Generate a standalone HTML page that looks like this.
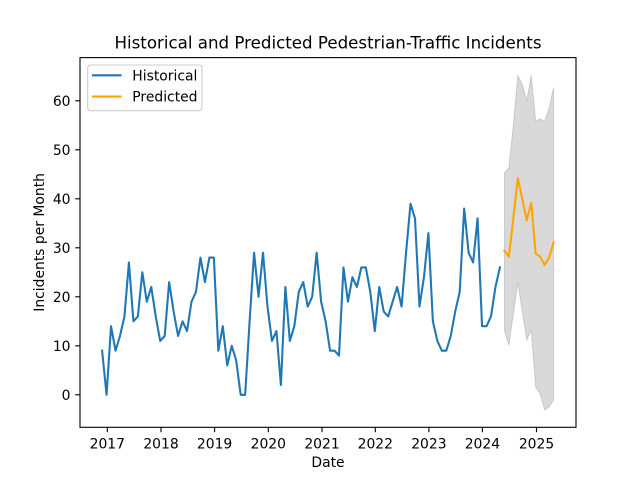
<!DOCTYPE html>
<html>
<head>
<meta charset="utf-8">
<style>
html,body{margin:0;padding:0;background:#fff;}
svg{display:block;}
text{font-family:"DejaVu Sans","Liberation Sans",sans-serif;fill:#000;}
</style>
</head>
<body>
<svg width="640" height="480" viewBox="0 0 640 480" xmlns="http://www.w3.org/2000/svg">
<rect x="0" y="0" width="640" height="480" fill="#fff"/>

<!-- data group: x = 102.1 + 4.47*i ; y = 394.8 - 4.9*v -->
<g transform="translate(102.1,394.8) scale(4.47,-4.9)">
  <polygon fill="#808080" fill-opacity="0.3" stroke="#808080" stroke-opacity="0.3" stroke-width="1" vector-effect="non-scaling-stroke"
    points="90,45.3 91,46.3 92,55 93,65.2 94,63.3 95,60 96,65.2 97,55.8 98,56.3 99,55.8 100,58.5 101,62.7 101,-1 100,-2.5 99,-3.1 98,0.2 97,1.6 96,13.3 95,11.2 94,17 93,22.9 92,16.5 91,10.1 90,13.1"/>
  <polyline fill="none" stroke="#1f77b4" stroke-width="2.08" stroke-linejoin="round" stroke-linecap="square" vector-effect="non-scaling-stroke"
    points="0,9 1,0 2,14 3,9 4,12 5,16 6,27 7,15 8,16 9,25 10,19 11,22 12,16 13,11 14,12 15,23 16,17 17,12 18,15 19,13 20,19 21,21 22,28 23,23 24,28 25,28 26,9 27,14 28,6 29,10 30,7 31,0 32,0 33,15 34,29 35,20 36,29 37,18 38,11 39,13 40,2 41,22 42,11 43,14 44,21 45,23 46,18 47,20 48,29 49,19 50,15 51,9 52,9 53,8 54,26 55,19 56,24 57,22 58,26 59,26 60,21 61,13 62,22 63,17 64,16 65,19 66,22 67,18 68,29 69,39 70,36 71,18 72,24 73,33 74,15 75,11 76,9 77,9 78,12 79,17 80,21 81,38 82,29 83,27 84,36 85,14 86,14 87,16 88,22 89,26"/>
  <polyline fill="none" stroke="#ffa500" stroke-width="2.08" stroke-linejoin="round" stroke-linecap="square" vector-effect="non-scaling-stroke"
    points="90,29.4 91,28.2 92,36 93,44.2 94,40 95,35.6 96,39.2 97,28.8 98,28.2 99,26.5 100,28 101,31.1"/>
</g>

<!-- axes frame -->
<rect x="80" y="57.6" width="496" height="369.7" fill="none" stroke="#000" stroke-width="1.1"/>

<!-- y ticks -->
<g stroke="#000" stroke-width="1.1">
  <line x1="75.2" y1="394.8" x2="80" y2="394.8"/>
  <line x1="75.2" y1="345.8" x2="80" y2="345.8"/>
  <line x1="75.2" y1="296.8" x2="80" y2="296.8"/>
  <line x1="75.2" y1="247.8" x2="80" y2="247.8"/>
  <line x1="75.2" y1="198.8" x2="80" y2="198.8"/>
  <line x1="75.2" y1="149.8" x2="80" y2="149.8"/>
  <line x1="75.2" y1="100.8" x2="80" y2="100.8"/>
</g>
<g font-size="13.9" text-anchor="end">
  <text x="70.5" y="399.9">0</text>
  <text x="70.5" y="350.9">10</text>
  <text x="70.5" y="301.9">20</text>
  <text x="70.5" y="252.9">30</text>
  <text x="70.5" y="203.9">40</text>
  <text x="70.5" y="154.9">50</text>
  <text x="70.5" y="105.9">60</text>
</g>

<!-- x ticks -->
<g stroke="#000" stroke-width="1.1">
  <line x1="107.3" y1="427.3" x2="107.3" y2="432.2"/>
  <line x1="161" y1="427.3" x2="161" y2="432.2"/>
  <line x1="214.6" y1="427.3" x2="214.6" y2="432.2"/>
  <line x1="268.3" y1="427.3" x2="268.3" y2="432.2"/>
  <line x1="322" y1="427.3" x2="322" y2="432.2"/>
  <line x1="375.3" y1="427.3" x2="375.3" y2="432.2"/>
  <line x1="428.9" y1="427.3" x2="428.9" y2="432.2"/>
  <line x1="482.4" y1="427.3" x2="482.4" y2="432.2"/>
  <line x1="536.5" y1="427.3" x2="536.5" y2="432.2"/>
</g>
<g font-size="13.9" text-anchor="middle">
  <text x="107.3" y="448.4">2017</text>
  <text x="161" y="448.4">2018</text>
  <text x="214.6" y="448.4">2019</text>
  <text x="268.3" y="448.4">2020</text>
  <text x="322" y="448.4">2021</text>
  <text x="375.3" y="448.4">2022</text>
  <text x="428.9" y="448.4">2023</text>
  <text x="482.4" y="448.4">2024</text>
  <text x="536.5" y="448.4">2025</text>
</g>

<!-- axis labels -->
<text x="328" y="467" font-size="13.9" text-anchor="middle">Date</text>
<text transform="translate(44,242.4) rotate(-90)" font-size="13.9" text-anchor="middle">Incidents per Month</text>

<!-- title -->
<text x="328" y="48.3" font-size="16.67" text-anchor="middle">Historical and Predicted Pedestrian-Traffic Incidents</text>

<!-- legend -->
<rect x="87.7" y="65" width="114.3" height="45.7" rx="2.8" ry="2.8" fill="#fff" fill-opacity="0.8" stroke="#cccccc" stroke-width="1.1"/>
<line x1="93" y1="75.3" x2="120.5" y2="75.3" stroke="#1f77b4" stroke-width="2.08" stroke-linecap="square"/>
<line x1="93" y1="96.6" x2="120.5" y2="96.6" stroke="#ffa500" stroke-width="2.08" stroke-linecap="square"/>
<text x="132.3" y="80.5" font-size="13.9">Historical</text>
<text x="132.3" y="101.6" font-size="13.9">Predicted</text>
</svg>
</body>
</html>
